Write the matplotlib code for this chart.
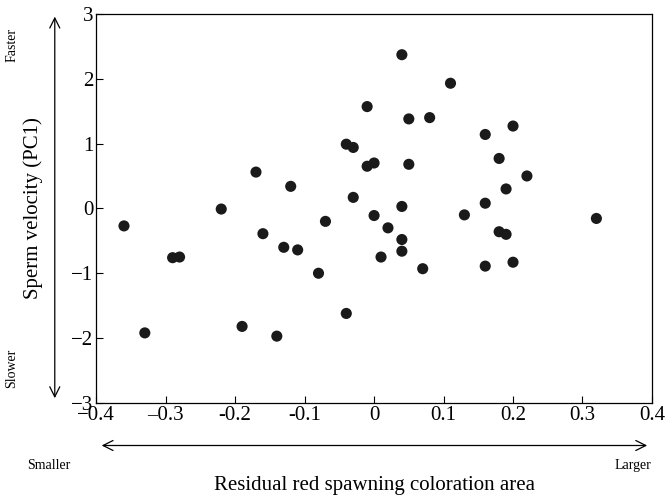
import matplotlib
matplotlib.use('Agg')
import matplotlib.pyplot as plt

# Residual red spawning coloration area vs sperm velocity (PC1)
coloration = [-0.36, -0.33, -0.29, -0.28, -0.22, -0.19, -0.17, -0.16, -0.14, -0.13,
              -0.12, -0.11, -0.08, -0.07, -0.04, -0.04, -0.03, -0.03, -0.01, -0.01,
              0.00, 0.00, 0.01, 0.02, 0.04, 0.04, 0.04, 0.04, 0.05, 0.05,
              0.07, 0.08, 0.11, 0.13, 0.16, 0.16, 0.16, 0.18, 0.18, 0.19,
              0.19, 0.20, 0.20, 0.22, 0.32]
velocity = [-0.27, -1.92, -0.76, -0.75, -0.01, -1.82, 0.56, -0.39, -1.97, -0.60,
            0.34, -0.64, -1.00, -0.20, 0.99, -1.62, 0.94, 0.17, 1.57, 0.65,
            0.70, -0.11, -0.75, -0.30, 2.37, 0.03, -0.48, -0.66, 1.38, 0.68,
            -0.93, 1.40, 1.93, -0.10, 1.14, 0.08, -0.89, 0.77, -0.36, -0.40,
            0.30, 1.27, -0.83, 0.50, -0.155]

xticks = [-0.4, -0.3, -0.2, -0.1, 0, 0.1, 0.2, 0.3, 0.4]
xticklabels = ['\u22120.4', '\u20130.3', '-0.2', '-0.1', '0', '0.1', '0.2', '0.3', '0.4']
yticks = [-3, -2, -1, 0, 1, 2, 3]
yticklabels = ['\u22123', '\u22122', '\u22121', '0', '1', '2', '3']

plt.rcParams['font.family'] = ['Liberation Serif', 'DejaVu Serif']

fig = plt.figure(figsize=(6.68, 4.95), dpi=100)
ax = fig.add_axes([0.144, 0.186, 0.832, 0.786])

ax.scatter(coloration, velocity, s=64, color='#1a1a1a', edgecolors='none', zorder=3)

ax.set_xlim(-0.4, 0.4)
ax.set_ylim(-3, 3)
ax.set_xticks(xticks)
ax.set_xticklabels(xticklabels)
ax.set_yticks(yticks)
ax.set_yticklabels(yticklabels)
ax.tick_params(direction='in', length=5, width=0.8, labelsize=15, pad=2)
for sp in ax.spines.values():
    sp.set_linewidth(0.9)

# x axis label and arrow
fig.text(0.56, 0.02, 'Residual red spawning coloration area', ha='center', va='center', fontsize=15)
fig.text(0.04, 0.06, 'Smaller', ha='left', va='center', fontsize=10)
fig.text(0.975, 0.06, 'Larger', ha='right', va='center', fontsize=10)
ax.annotate('', xy=(0.973, 0.1), xytext=(0.148, 0.1), xycoords='figure fraction',
            arrowprops=dict(arrowstyle='<->', lw=0.9, color='black', mutation_scale=18))

# y axis label and arrow
fig.text(0.05, 0.58, 'Sperm velocity (PC1)', rotation=90, ha='center', va='center', fontsize=15)
fig.text(0.018, 0.91, 'Faster', rotation=90, ha='center', va='center', fontsize=10)
fig.text(0.018, 0.255, 'Slower', rotation=90, ha='center', va='center', fontsize=10)
ax.annotate('', xy=(0.082, 0.972), xytext=(0.082, 0.19), xycoords='figure fraction',
            arrowprops=dict(arrowstyle='<->', lw=0.9, color='black', mutation_scale=18))

plt.savefig('out.png', dpi=100)
